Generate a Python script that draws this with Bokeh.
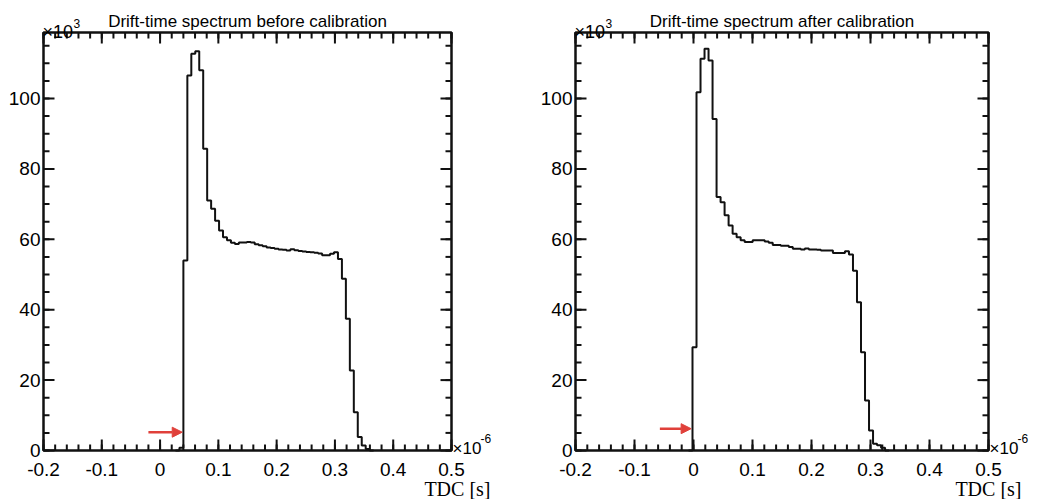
from bokeh.plotting import figure
from bokeh.models import Range1d, Arrow, NormalHead
from bokeh.layouts import row
from bokeh.core.properties import value
from bokeh.embed import file_html
from bokeh.resources import INLINE

# ---------------- data (counts in units of 10^3, time in 10^-6 s) ----------------
bin_width = 0.0068

left_start = 0.0332
left_counts = [0.8, 54.0, 106.5, 112.7, 113.4, 108.0, 85.7, 71.0, 68.7, 65.3,
               62.5, 60.6, 59.7, 59.0, 58.7, 59.1, 59.1, 59.2, 59.1, 58.6,
               58.3, 58.0, 57.7, 57.5, 57.3, 57.1, 57.0, 56.8, 57.2, 56.9,
               56.7, 56.5, 56.4, 56.3, 56.2, 56.0, 55.5, 55.5, 55.9, 56.3,
               54.4, 48.8, 37.4, 22.7, 10.9, 3.8, 1.4, 0.4]

right_start = -0.0017
right_counts = [29.3, 101.8, 111.3, 114.1, 110.8, 94.2, 72.0, 70.5, 66.8, 63.9,
                61.6, 60.6, 59.7, 59.2, 59.2, 59.7, 59.7, 59.7, 59.4, 59.0,
                58.4, 58.4, 58.2, 58.2, 57.8, 57.3, 57.3, 57.1, 57.4, 57.1,
                57.1, 57.0, 56.8, 56.8, 56.8, 56.1, 56.1, 56.1, 56.6, 55.7,
                51.1, 42.1, 27.9, 14.2, 5.7, 1.9, 1.5, 0.8]

titles = ["Drift-time spectrum before calibration",
          "Drift-time spectrum after calibration"]

x_ticks = [-0.2, -0.1, 0.0, 0.1, 0.2, 0.3, 0.4, 0.5]
x_tick_labels = ["-0.2", "-0.1", "0", "0.1", "0.2", "0.3", "0.4", "0.5"]
y_ticks = [0, 20, 40, 60, 80, 100]
y_tick_labels = ["0", "20", "40", "60", "80", "100"]
x_axis_title = "TDC [s]"

# red arrows marking the start of the spectrum (t0)
arrow_tail = [-0.02, -0.057]
arrow_tip = [0.038, -0.004]
arrow_y = [5.2, 6.2]

X_MIN, X_MAX = -0.2, 0.5
Y_MIN, Y_MAX = 0.0, 118.75

FONT = "Liberation Sans"
SERIF = "Liberation Serif"
INK = "#111111"
RED = "#e0403a"

x_minor = [round(X_MIN + 0.02 * k, 4) for k in range(36)]
y_minor = [5 * k for k in range(24)]

H = 499
BOX_TOP, BOX_BOTTOM = 32, 450
MAJOR_LEN, MINOR_LEN = 11, 6


def make_panel(counts, start, title, tail, tip, ay, W, box_left, box_w, tdc_dx):
    kx = box_w / (X_MAX - X_MIN)               # px per x unit
    ky = (BOX_BOTTOM - BOX_TOP) / (Y_MAX - Y_MIN)  # px per y unit
    xr = Range1d(X_MIN - box_left / kx, X_MIN + (W - box_left) / kx)
    yr = Range1d(Y_MIN - (H - BOX_BOTTOM) / ky, Y_MAX + BOX_TOP / ky)
    p = figure(width=W, height=H, x_range=xr, y_range=yr,
               output_backend="svg", toolbar_location=None,
               x_axis_type=None, y_axis_type=None, min_border=0)
    p.outline_line_color = None
    p.background_fill_color = "white"
    p.border_fill_color = "white"

    def cx(px):  # canvas px -> data x
        return X_MIN + (px - box_left) / kx

    def cy(py):  # canvas px -> data y
        return Y_MIN + (BOX_BOTTOM - py) / ky

    box_right = box_left + box_w

    # histogram as a step outline (pad one empty bin on each side)
    padded = [0.0] + list(counts) + [0.0]
    edges = [start + (k - 1) * bin_width for k in range(len(padded) + 1)]
    ys = padded + [0.0]
    p.step(x=edges, y=ys, mode="after", line_color=INK, line_width=2)

    # frame box
    p.quad(left=[X_MIN], right=[X_MAX], bottom=[Y_MIN], top=[Y_MAX],
           fill_color=None, line_color=INK, line_width=2.5)

    # ticks (inward, all four sides)
    for ticks, ln in ((x_ticks, MAJOR_LEN), (x_minor, MINOR_LEN)):
        d = ln / ky
        p.segment(x0=ticks, y0=[Y_MIN] * len(ticks), x1=ticks, y1=[Y_MIN + d] * len(ticks),
                  line_color=INK, line_width=2)
        p.segment(x0=ticks, y0=[Y_MAX] * len(ticks), x1=ticks, y1=[Y_MAX - d] * len(ticks),
                  line_color=INK, line_width=2)
    for ticks, ln in ((y_ticks, MAJOR_LEN), (y_minor, MINOR_LEN)):
        d = ln / kx
        p.segment(x0=[X_MIN] * len(ticks), y0=ticks, x1=[X_MIN + d] * len(ticks), y1=ticks,
                  line_color=INK, line_width=2)
        p.segment(x0=[X_MAX] * len(ticks), y0=ticks, x1=[X_MAX - d] * len(ticks), y1=ticks,
                  line_color=INK, line_width=2)

    # tick labels
    p.text(x=[cx(box_left - 3)] * len(y_ticks), y=y_ticks, text=y_tick_labels,
           text_align="right", text_baseline="middle",
           text_font=value(FONT), text_font_size=value("19px"), text_color="black")
    p.text(x=x_ticks, y=[cy(469)] * len(x_ticks), text=x_tick_labels,
           text_align="center", text_baseline="alphabetic",
           text_font=value(FONT), text_font_size=value("19px"), text_color="black")

    # arrow
    p.add_layout(Arrow(end=NormalHead(size=10, fill_color=RED, line_color=RED, line_width=1),
                       x_start=tail, y_start=ay, x_end=tip, y_end=ay,
                       line_color=RED, line_width=2.5))

    def txt(x, y, s, size, align="left", font=FONT):
        p.text(x=[x], y=[y], text=[s], text_align=align, text_baseline="alphabetic",
               text_font=value(font), text_font_size=value(size), text_color="black")

    # title and exponent markers
    txt((X_MIN + X_MAX) / 2, cy(21), title, "17px", "center")
    txt(cx(box_left - 1), cy(31.5), "×10", "18px")
    txt(cx(box_left + 30), cy(23), "3", "12px")
    txt(cx(box_right + 1), cy(448), "×10", "17px")
    txt(cx(box_right + 29), cy(438), "-6", "12px")
    txt(cx(box_right + tdc_dx), cy(488), x_axis_title, "20px", "right", SERIF)
    return p


p1 = make_panel(left_counts, left_start, titles[0], arrow_tail[0], arrow_tip[0], arrow_y[0],
                528, 43, 408, 39)
p2 = make_panel(right_counts, right_start, titles[1], arrow_tail[1], arrow_tip[1], arrow_y[1],
                509, 47, 413, 33)

layout = row(p1, p2)
open("out.html", "w").write(file_html(layout, INLINE))
